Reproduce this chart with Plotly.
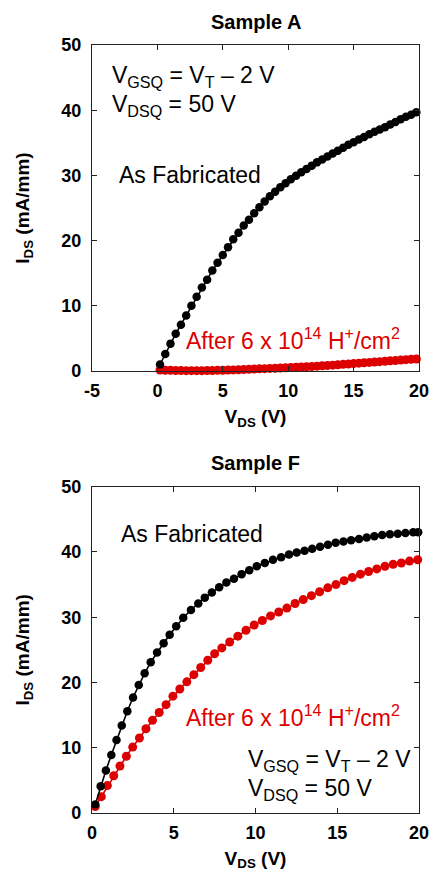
import plotly.graph_objects as go
from plotly.subplots import make_subplots

# ---- Sample A ----
a_v = [0.2, 0.6, 1.0, 1.4, 1.8, 2.2, 2.6, 3.0, 3.4, 3.8, 4.2, 4.6, 5.0, 5.4, 5.8, 6.2, 6.6, 7.0,
       7.4, 7.8, 8.2, 8.6, 9.0, 9.4, 9.8, 10.2, 10.6, 11.0, 11.4, 11.8, 12.2, 12.6, 13.0, 13.4,
       13.8, 14.2, 14.6, 15.0, 15.4, 15.8, 16.2, 16.6, 17.0, 17.4, 17.8, 18.2, 18.6, 19.0, 19.4, 19.8]
a_fab = [1.0, 2.6, 4.2, 5.7, 7.1, 8.5, 10.0, 11.4, 12.8, 14.0, 15.4, 16.6, 17.8, 19.0, 20.2, 21.2,
         22.3, 23.2, 24.2, 25.1, 26.0, 26.8, 27.5, 28.2, 28.8, 29.4, 29.95, 30.5, 31.0, 31.5, 32.0,
         32.45, 32.9, 33.35, 33.8, 34.25, 34.7, 35.1, 35.5, 35.9, 36.3, 36.7, 37.05, 37.4, 37.8, 38.2,
         38.6, 39.0, 39.3, 39.7]
a_irr = [0.15, 0.12, 0.1, 0.08, 0.06, 0.05, 0.05, 0.05, 0.05, 0.06, 0.08, 0.1, 0.12, 0.14, 0.17,
         0.2, 0.23, 0.27, 0.3, 0.33, 0.36, 0.4, 0.43, 0.47, 0.5, 0.54, 0.58, 0.62, 0.66, 0.7, 0.75,
         0.8, 0.85, 0.9, 0.96, 1.02, 1.08, 1.14, 1.2, 1.26, 1.32, 1.38, 1.44, 1.5, 1.56, 1.62, 1.68,
         1.74, 1.8, 1.85]

# ---- Sample F ----
f_fab_v = [0.2, 0.53, 0.85, 1.18, 1.5, 1.82, 2.16, 2.51, 2.86, 3.22, 3.59, 3.98, 4.38, 4.75, 5.15,
           5.58, 6.05, 6.5, 6.9, 7.33, 7.78, 8.22, 8.68, 9.15, 9.62, 10.08, 10.57, 11.07, 11.57,
           12.05, 12.52, 13.0, 13.47, 13.95, 14.43, 14.9, 15.38, 15.85, 16.33, 16.8, 17.27, 17.75,
           18.22, 18.7, 19.17, 19.65, 19.95]
f_fab = [1.3, 4.1, 6.5, 8.9, 11.2, 13.4, 15.6, 17.7, 19.6, 21.4, 23.1, 24.6, 26.0, 27.3, 28.6, 29.9,
         31.1, 32.1, 33.0, 33.8, 34.6, 35.3, 35.9, 36.6, 37.2, 37.8, 38.3, 38.8, 39.2, 39.6, 39.9,
         40.2, 40.5, 40.8, 41.1, 41.4, 41.6, 41.8, 42.0, 42.2, 42.4, 42.6, 42.7, 42.8, 42.9, 43.0,
         43.0]
f_irr_v = [0.2, 0.57, 0.94, 1.33, 1.71, 2.1, 2.49, 2.9, 3.3, 3.7, 4.11, 4.53, 4.95, 5.37, 5.8, 6.23,
           6.65, 7.08, 7.5, 7.94, 8.42, 8.92, 9.42, 9.92, 10.42, 10.92, 11.42, 11.92, 12.42, 12.92,
           13.42, 13.92, 14.42, 14.92, 15.42, 15.92, 16.42, 16.92, 17.42, 17.92, 18.42, 18.92,
           19.42, 19.92]
f_irr = [1.0, 2.5, 4.2, 5.7, 7.2, 8.7, 10.1, 11.5, 12.9, 14.2, 15.4, 16.6, 17.9, 19.0, 20.1, 21.2,
         22.3, 23.4, 24.4, 25.3, 26.2, 27.1, 28.0, 28.8, 29.5, 30.2, 30.8, 31.4, 32.1, 32.7, 33.3,
         33.9, 34.5, 35.0, 35.6, 36.1, 36.6, 37.0, 37.4, 37.8, 38.1, 38.3, 38.6, 38.8]

top_xticks = [-5, 0, 5, 10, 15, 20]
top_xtext = ["-5", "0", "5", "10", "15", "20"]
bot_xticks = [0, 5, 10, 15, 20]
bot_xtext = ["0", "5", "10", "15", "20"]
yticks = [0, 10, 20, 30, 40, 50]

BLACK = "#000000"
RED = "#dd0000"
FONT = "Liberation Sans, Arial, Helvetica, sans-serif"

fig = make_subplots(rows=2, cols=1, vertical_spacing=0.1506)
fig.update_yaxes(domain=[0.5755, 1.0], row=1, col=1)
fig.update_yaxes(domain=[0.0, 0.4249], row=2, col=1)

def add_series(x, y, color, size, row):
    fig.add_trace(go.Scatter(x=x, y=y, mode="lines+markers",
                             line=dict(color=color, width=1.6),
                             marker=dict(color=color, size=size),
                             cliponaxis=False, showlegend=False), row=row, col=1)

add_series(a_v, a_irr, RED, 9, 1)
add_series(a_v, a_fab, BLACK, 8.5, 1)
add_series(f_irr_v, f_irr, RED, 9, 2)
add_series(f_fab_v, f_fab, BLACK, 8.5, 2)

axis_common = dict(showline=True, linecolor="#222222", linewidth=1.2, mirror="ticks",
                   ticks="inside", ticklen=5, tickcolor="#222222", tickwidth=1.2,
                   showgrid=False, zeroline=False,
                   tickfont=dict(family=FONT, size=18, color="black", weight="bold"),
                   automargin=False)

fig.update_xaxes(**axis_common)
fig.update_yaxes(**axis_common)

xtitle_font = dict(family=FONT, size=19, color="black", weight="bold")
fig.update_xaxes(range=[-5, 20], tickvals=top_xticks, ticktext=top_xtext, row=1, col=1,
                 ticklabelstandoff=3,
                 title=dict(text="V<sub>DS</sub> (V)", standoff=9, font=xtitle_font))
fig.update_xaxes(range=[0, 20], tickvals=bot_xticks, ticktext=bot_xtext, row=2, col=1,
                 ticklabelstandoff=3,
                 title=dict(text="V<sub>DS</sub> (V)", standoff=9, font=xtitle_font))
for r in (1, 2):
    fig.update_yaxes(range=[0, 50], tickvals=yticks, row=r, col=1, ticklabelstandoff=6,
                     title=dict(text="I<sub>DS</sub> (mA/mm)", standoff=26,
                                font=dict(family=FONT, size=19, color="black", weight="bold")))

ann_font = dict(family=FONT, size=23, color="black")
red_font = dict(family=FONT, size=23, color=RED)
anns = [
    dict(text="<b>Sample A</b>", xref="paper", yref="paper", x=0.5, y=1.0296,
         font=dict(family=FONT, size=20, color="black")),
    dict(text="<b>Sample F</b>", xref="paper", yref="paper", x=0.5, y=0.4558,
         font=dict(family=FONT, size=20, color="black")),
    dict(text="V<sub>GSQ</sub> = V<sub>T</sub> \u2013 2 V", xref="x", yref="y", x=-3.62, y=45.1,
         xanchor="left", font=ann_font),
    dict(text="V<sub>DSQ</sub> = 50 V", xref="x", yref="y", x=-3.62, y=40.7,
         xanchor="left", font=ann_font),
    dict(text="As Fabricated", xref="x", yref="y", x=-3.09, y=30.0, xanchor="left", font=ann_font),
    dict(text="After 6 x 10<sup>14</sup> H<sup>+</sup>/cm<sup>2</sup>", xref="x", yref="y",
         x=2.03, y=4.9, xanchor="left", font=red_font),
    dict(text="As Fabricated", xref="x2", yref="y2", x=1.65, y=42.8, xanchor="left", font=ann_font),
    dict(text="After 6 x 10<sup>14</sup> H<sup>+</sup>/cm<sup>2</sup>", xref="x2", yref="y2",
         x=5.63, y=14.9, xanchor="left", font=red_font),
    dict(text="V<sub>GSQ</sub> = V<sub>T</sub> \u2013 2 V", xref="x2", yref="y2", x=9.42, y=8.0,
         xanchor="left", font=ann_font),
    dict(text="V<sub>DSQ</sub> = 50 V", xref="x2", yref="y2", x=9.42, y=3.6,
         xanchor="left", font=ann_font),
]
for a in anns:
    a.setdefault("yanchor", "middle")
    a["showarrow"] = False
    fig.add_annotation(**a)

fig.update_layout(width=433, height=876, margin=dict(l=92, r=14, t=45, b=63),
                  plot_bgcolor="white", paper_bgcolor="white",
                  font=dict(family=FONT, color="black"))

fig.write_html("out.html", config={"displayModeBar": False},
               post_script="document.body.style.margin='0';document.body.style.overflow='hidden';")
